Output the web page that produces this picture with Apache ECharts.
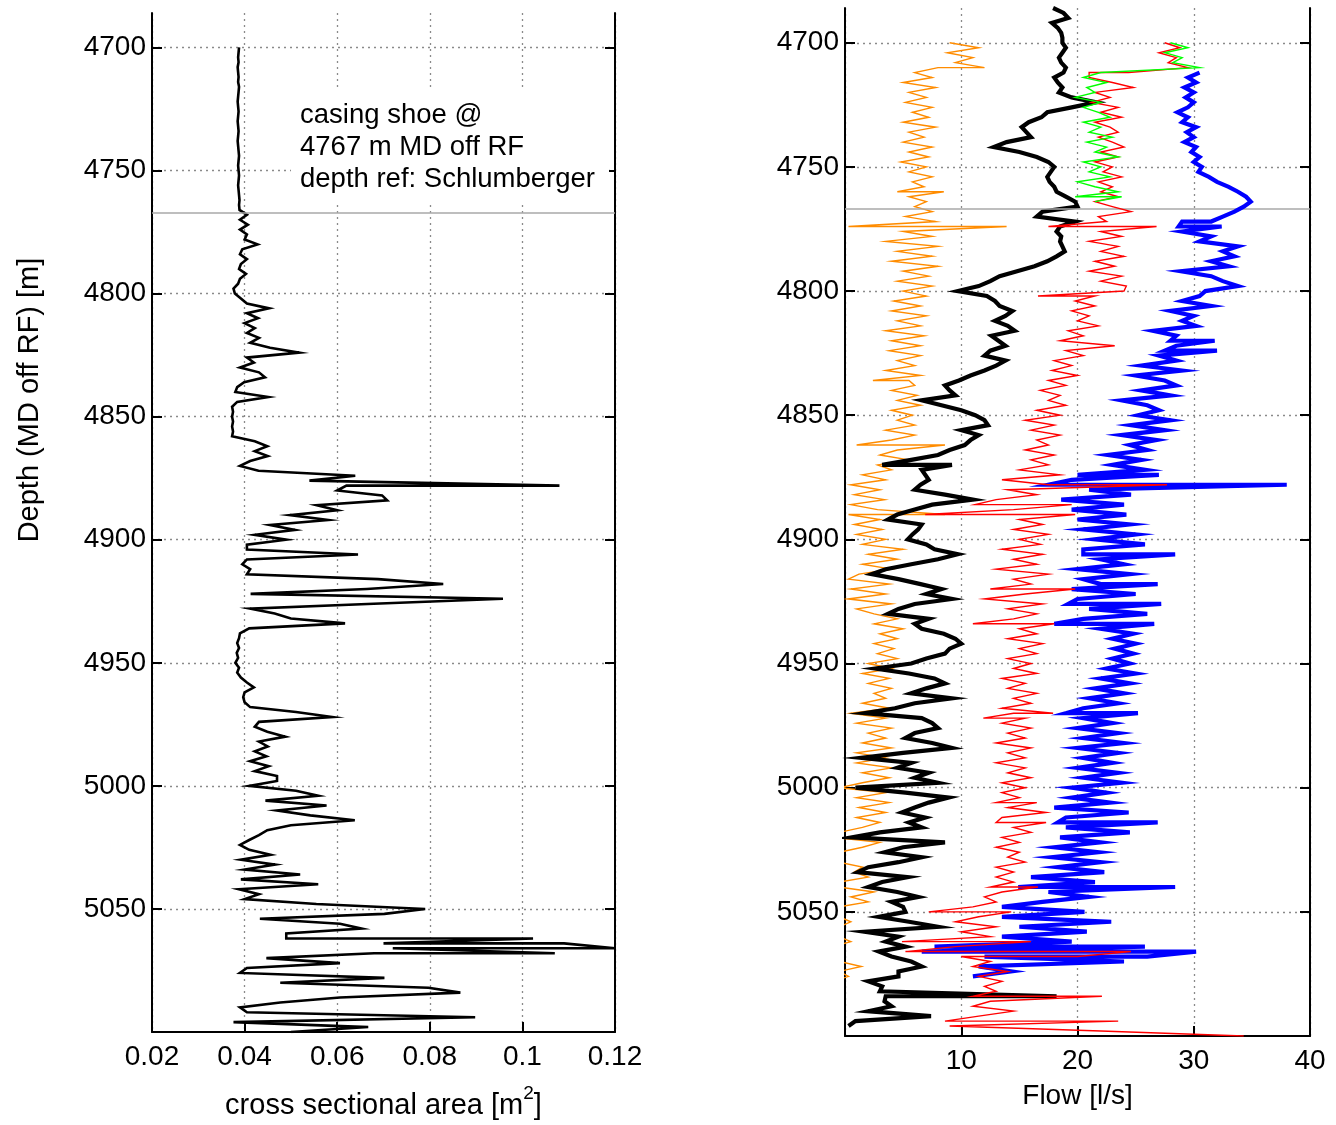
<!DOCTYPE html>
<html><head><meta charset="utf-8">
<script src="https://cdn.jsdelivr.net/npm/echarts@6/dist/echarts.min.js"></script>
<style>html,body{margin:0;padding:0;background:#fff}#c{width:1336px;height:1125px}</style>
</head><body><div id="c"></div>
<script>
// ---- data ----
const STEP = 2;                // depth sampling step, m
const depthTicks = [4700, 4750, 4800, 4850, 4900, 4950, 5000, 5050];
const casingShoe = 4767;
// a [a, b] entry means the trace sweeps from a to b at that depth

// left panel: cross sectional area [m2], from 4700 m
const areaStart = 4700;
const area = [
  0.0388,0.0387,0.0386,0.0387,0.0385,0.0386,0.0387,0.0386,0.0388,0.0387,
  0.0386,0.0385,0.0386,0.0387,0.0386,0.0385,0.0386,0.0387,0.0386,0.0385,
  0.0386,0.0387,0.0388,0.0387,0.0386,0.0387,0.0388,0.0387,0.0386,0.0387,
  0.0388,0.0389,0.0388,0.0389,
  0.0405,0.039,0.0407,0.039,0.0405,0.040,0.0428,0.0395,0.039,0.0405,0.0392,0.0388,0.0403,0.039,0.0386,0.0376,
  0.0379,0.0392,0.0405,0.0453,0.0405,0.0429,0.040,0.0422,0.0405,0.0431,0.0412,0.0455,0.0518,0.0405,0.042,0.039,
  0.0431,0.0444,0.0399,0.0384,0.038,0.0451,0.0384,0.0373,0.0375,0.0373,
  0.0375,0.0373,0.0375,0.0373,0.0422,0.0449,0.0422,0.045,0.0412,0.039,0.043,0.0639,
  0.054,[0.108,0.062],0.060,0.0697,0.0708,0.0556,0.060,0.0498,0.058,0.0455,0.0509,0.0422,0.049,
  0.0405,0.0405,0.0645,0.0405,0.0395,0.0412,0.0405,0.0688,0.0829,0.0664,0.0413,0.0958,0.0679,0.0412,0.0465,0.050,
  0.0617,0.041,0.039,0.0388,0.0384,0.0388,0.0383,0.0386,0.038,
  0.0388,0.0384,0.0392,0.0405,0.042,0.040,0.0397,0.040,0.0412,0.0511,0.0589,0.0431,0.0422,0.0449,0.0488,0.0431,
  0.045,0.0422,0.0447,0.0412,0.0452,0.0422,0.047,
  0.047,0.041,0.0511,0.0559,0.0445,0.0577,0.047,0.0542,0.0638,0.05,0.0449,0.0431,0.041,0.039,0.041,0.0456,
  0.0392,0.0466,0.040,0.052,0.0392,0.0559,0.0388,0.0431,0.040,0.0555,0.079,
  0.0702,0.0433,0.0606,0.0653,0.049,[0.049,0.1023],[0.07,0.109],[0.12,0.072],[0.107,0.068],0.0447,0.0606,0.0405,0.039,0.0702,0.0477,0.0797,
  0.0866,0.0606,0.0477,0.039,0.0405,0.0898,0.0376,0.0667,0.05
];

// right panel: flow [l/s]
const blackStart = 4686;
const blackFlow = [
  17.9,18.8,19.2,17.8,18.3,18.6,18.7,18.7,19.0,18.7,
  18.4,18.6,19.0,18.8,18.0,18.3,18.7,18.4,19.5,21.6,
  19.5,17.4,16.9,15.8,15.2,15.6,16.0,13.9,12.8,15.0,
  16.5,17.5,18.0,17.7,17.4,17.6,18.0,18.2,19.0,19.8,
  20.0,17.0,16.5,19.8,18.5,18.2,18.6,18.5,18.7,18.9,
  18.2,17.4,16.3,14.8,13.3,12.5,11.5,9.7,12.2,12.9,
  13.3,14.4,13.8,12.9,14.0,14.6,12.6,13.2,13.8,12.5,
  12.0,13.8,13.0,12.0,10.8,9.8,8.6,9.0,9.5,6.6,
  8.3,10.0,11.2,12.0,12.3,10.0,11.5,10.8,10.3,9.0,
  8.0,5.7,[3.2,9.2],6.6,6.9,7.2,6.5,6.0,8.6,11.0,
  7.5,6.0,4.5,3.7,6.6,6.3,5.8,5.4,7.0,7.7,
  9.7,8.0,5.7,3.5,2.3,4.6,6.5,8.3,7.0,9.2,
  6.0,4.6,3.7,7.2,6.0,6.6,8.5,9.5,10.0,9.0,
  8.6,7.0,5.7,2.6,5.5,7.7,8.6,7.0,5.7,9.2,
  6.0,4.3,1.7,6.6,7.5,8.0,6.0,5.2,7.5,9.2,
  5.0,1.4,5.7,4.5,7.2,6.0,8.0,0.9,5.2,8.9,
  7.2,6.0,4.9,6.9,5.5,6.6,3.0,0.6,8.6,5.0,
  3.4,6.6,4.6,2.0,1.1,5.4,3.2,2.0,4.5,6.3,
  4.0,5.0,5.2,2.9,5.5,8.0,1.7,4.6,3.5,5.2,
  2.9,4.0,5.7,6.6,4.6,4.6,2.0,3.2,3.0,[18.2,3.5],
  3.4,4.0,2.0,7.4,0.9,0.3
];

const redStart = 4700;
const redFlow = [
  27.5,28.8,27.0,28.5,27.8,29.5,[24.4,21.0],21.0,23.0,24.8,
  21.5,22.8,21.2,23.5,22.0,23.8,21.5,22.8,23.5,21.8,
  23.0,24.0,22.0,23.5,21.5,23.0,22.2,23.8,21.8,23.0,
  22.0,23.5,21.5,23.0,24.6,21.8,22.5,[17.5,26.8],22.0,23.8,
  21.0,23.5,22.0,24.0,21.5,23.2,21.0,23.8,22.0,24.2,
  24.0,[16.6,21.5],19.8,21.5,19.5,21.0,20.0,21.8,19.2,20.5,
  18.5,23.2,19.0,20.5,18.0,19.5,17.8,20.0,17.5,19.0,
  16.8,18.5,17.5,19.0,16.5,18.5,15.5,18.0,16.0,18.5,
  16.5,17.5,15.5,18.0,16.0,17.5,15.0,18.5,13.5,[17.5,27.7],
  14.0,16.5,13.0,[11.2,19.5],14.5,[6.9,19.8],15.0,17.0,14.5,17.5,
  15.0,16.8,13.5,17.0,14.5,16.5,13.0,17.5,14.5,16.0,
  [12.5,19.8],15.5,12.0,17.0,14.0,16.5,14.5,[11.0,18.0],15.0,16.5,
  14.0,17.0,15.0,16.5,14.0,16.0,14.5,16.5,13.5,15.5,
  14.0,16.5,14.5,16.0,13.5,[17.9,14.5],[11.9,15.5],13.5,16.0,14.0,
  15.5,13.0,16.0,14.0,15.5,13.0,15.5,14.0,16.0,13.5,
  15.5,13.5,15.0,[13.0,16.5],14.0,17.3,13.5,[13.0,17.3],14.5,16.0,
  13.5,15.0,13.0,15.0,14.0,15.5,13.0,14.5,13.0,14.5,
  [12.5,16.6],13.5,12.0,13.0,11.0,[7.2,14.3],11.5,9.5,13.0,10.0,
  12.5,[4.9,16.0],9.5,[5.2,24.6],[20.0,10.0],12.5,11.0,14.0,11.5,13.5,
  12.0,13.0,[11.0,22.1],12.5,11.0,14.5,11.5,[8.6,23.5],9.0,22.0,
  34.3
];

const greenStart = 4700;
const greenFlow = [
  28.0,29.5,27.5,29.0,28.2,30.5,22.0,20.5,22.5,20.8,
  21.5,19.8,22.0,20.5,21.8,22.8,20.5,22.0,21.0,23.0,
  20.8,22.5,21.5,23.5,20.5,22.0,21.0,22.8,20.0,21.5,
  23.5,[19.8,23.8],21.5
];

const orangeStart = 4700;
const orangeFlow = [
  9.0,11.5,8.8,11.0,9.5,[12.0,8.0],6.0,7.5,5.0,7.8,
  5.5,7.0,5.2,7.5,5.8,7.2,5.0,7.8,5.5,6.8,
  5.0,7.5,5.5,7.2,4.8,7.0,5.5,7.5,5.8,6.8,
  [4.5,8.5],5.5,7.0,6.0,7.5,5.2,7.8,[0.3,13.9],5.0,7.5,
  3.5,8.0,4.5,7.5,4.0,8.0,5.0,7.2,4.5,7.5,
  5.0,7.0,4.2,6.5,4.0,7.0,4.5,6.5,3.5,6.8,
  4.0,6.5,3.8,6.5,4.5,6.0,3.5,6.5,[2.4,5.5],6.0,
  4.0,6.2,4.5,6.5,4.0,5.8,4.5,6.0,3.5,6.0,
  4.0,[1.0,8.6],4.5,3.0,5.5,2.8,4.0,1.5,3.5,0.5,
  3.0,0.8,3.4,0.5,2.8,[8.6,0.3],3.0,0.8,3.2,1.0,
  3.5,1.5,5.0,2.0,4.5,1.5,4.0,1.2,0.3,3.8,
  0.5,3.5,0.3,4.0,1.0,2.5,4.5,2.5,5.0,3.0,
  4.5,2.5,4.2,2.8,4.5,2.0,4.0,1.5,3.8,2.0,
  4.0,2.5,3.5,1.5,3.8,0.5,3.5,1.0,4.0,2.0,
  3.5,1.5,4.0,1.0,3.5,1.0,4.0,1.5,3.8,1.5,
  -0.5,3.5,1.0,3.8,1.2,3.5,1.0,3.0,1.5,-0.5,
  -1.0,3.0,1.5,-0.5,-1.0,-0.5,1.5,0.8,2.0,-0.5,
  -0.5,2.5,0.5,2.0,-0.5,-1.0,-0.5,0.5,-0.5,-1.0,
  -0.5,0.5,-1.0,-1.0,-1.0,-0.5,1.4,-0.5,0.3,-1.0,
  -1.0
];

const blueStart = 4712;
const blueFlow = [
  30.5,29.5,30.2,29.2,30.0,29.3,30.0,29.5,28.6,29.5,
  29.0,30.2,29.4,30.0,29.2,30.2,29.8,30.5,30.0,30.7,
  30.4,31.3,32.0,33.0,33.8,34.5,34.9,34.3,33.5,32.5,
  [31.5,29.0],[28.7,32.4],29.0,31.5,30.5,33.8,32.5,33.5,31.5,33.0,
  28.9,31.5,32.5,33.8,31.0,30.5,29.0,31.5,28.0,30.0,
  29.0,30.2,26.5,28.5,[28.0,31.8],28.5,[27.5,32.0],27.0,28.5,25.5,
  29.0,25.0,27.5,28.5,25.5,28.0,23.8,26.0,27.0,25.2,
  28.0,24.6,27.5,23.8,26.8,24.5,26.0,22.6,25.5,23.0,
  25.8,[20.0,27.0],19.5,[17.5,38.0],21.0,24.6,18.6,24.0,19.5,24.2,
  20.0,24.5,20.5,25.0,21.5,25.8,20.5,[20.5,28.4],22.0,24.0,
  20.0,24.5,20.5,[22.0,26.9],19.5,25.0,20.0,[19.2,27.2],21.0,26.0,
  20.5,[18.0,26.6],22.0,24.8,23.0,25.0,23.2,24.8,23.0,24.5,
  22.5,25.0,22.0,24.5,21.5,24.0,21.0,23.5,20.5,[19.0,25.2],
  20.5,23.0,20.0,23.5,20.5,24.0,20.0,23.5,20.5,23.0,
  20.0,23.5,20.5,23.8,19.5,22.5,19.5,22.8,18.0,24.4,
  19.0,[18.3,26.9],19.0,24.5,18.5,22.0,18.0,21.8,17.8,22.0,
  18.3,22.3,16.0,21.5,[14.9,28.4],17.5,21.0,17.0,13.5,20.6,
  13.5,22.9,15.0,20.8,13.5,19.5,[7.7,25.8],[6.6,30.2],[26.0,12.0],24.0,
  11.5,14.3,11.0
];

// ---- build [value, depth] pairs ----
function build(start, vals) {
  const out = [];
  vals.forEach((v, i) => {
    const d = start + i * STEP;
    if (Array.isArray(v)) v.forEach(x => out.push([x, d]));
    else out.push([v, d]);
  });
  return out;
}

const FONT = "'Liberation Sans', Arial, Helvetica, sans-serif";
const DMIN = 4686, DMAX = 5100;
const gridLine = {show: true, lineStyle: {type: [2, 4], color: '#8a8a8a', width: 1.3}};

function yAx(grid, pos, labels) {
  return {
    type: 'value', gridIndex: grid, position: pos, inverse: true,
    min: DMIN, max: DMAX,
    axisLine: {show: true, onZero: false, lineStyle: {color: '#000', width: 2}},
    axisTick: {show: true, inside: true, length: 10, customValues: depthTicks, lineStyle: {color: '#000', width: 2}},
    axisLabel: labels ? {show: true, customValues: depthTicks, fontSize: 28, color: '#000', fontFamily: FONT, margin: 6,
                         formatter: v => String(v)} : {show: false},
    splitLine: labels ? gridLine : {show: false}
  };
}

function shoeSeries(xi, xv) {
  return {
    type: 'line', xAxisIndex: xi, yAxisIndex: xi * 2, data: [[xv, casingShoe]],
    showSymbol: false, lineStyle: {opacity: 0}, z: 1, silent: true,
    markLine: {silent: true, symbol: 'none', label: {show: false},
      lineStyle: {color: '#a8a8a8', width: 1.6, type: 'solid'},
      data: [{yAxis: casingShoe}]}
  };
}

function curve(xi, data, color, width, z) {
  return {type: 'line', xAxisIndex: xi, yAxisIndex: xi * 2, data: data,
    showSymbol: false, symbol: 'none', silent: true, z: z,
    lineStyle: {color: color, width: width, join: 'miter'}};
}

const chart = echarts.init(document.getElementById('c'), null, {renderer: 'canvas'});
chart.setOption({
  animation: false,
  backgroundColor: '#fff',
  grid: [
    {left: 152, top: 13, width: 463, height: 1021},
    {left: 845, top: 8, width: 465, height: 1028}
  ],
  xAxis: [
    {type: 'value', gridIndex: 0, position: 'bottom', min: 0.02, max: 0.12, interval: 0.02,
     axisLine: {show: true, onZero: false, lineStyle: {color: '#000', width: 2}},
     axisTick: {show: true, inside: true, length: 10, lineStyle: {color: '#000', width: 2}},
     axisLabel: {fontSize: 28, color: '#000', fontFamily: FONT, margin: 11,
       formatter: v => String(parseFloat(Number(v).toFixed(2)))},
     splitLine: gridLine,
     name: '{a|cross sectional area [m}{s|2}{a|]}', nameLocation: 'middle', nameGap: 52,
     nameTextStyle: {fontFamily: FONT, color: '#000', rich: {
       a: {fontSize: 29, lineHeight: 36, verticalAlign: 'bottom', fontFamily: FONT, color: '#000'},
       s: {fontSize: 19, lineHeight: 18, verticalAlign: 'top', fontFamily: FONT, color: '#000'}}}},
    {type: 'value', gridIndex: 1, position: 'bottom', min: 0, max: 40, interval: 10,
     axisLine: {show: true, onZero: false, lineStyle: {color: '#000', width: 2}},
     axisTick: {show: true, inside: true, length: 10, lineStyle: {color: '#000', width: 2}},
     axisLabel: {fontSize: 28, color: '#000', fontFamily: FONT, margin: 11,
       formatter: v => (v === 0 ? '' : String(v))},
     splitLine: gridLine,
     name: 'Flow [l/s]', nameLocation: 'middle', nameGap: 46,
     nameTextStyle: {fontSize: 28, color: '#000', fontFamily: FONT}}
  ],
  yAxis: [yAx(0, 'left', true), yAx(0, 'right', false), yAx(1, 'left', true), yAx(1, 'right', false)],
  graphic: [
    {type: 'text', x: 30, y: 400, rotation: Math.PI / 2, z: 10,
     style: {text: 'Depth (MD off RF) [m]', fontSize: 29, fontFamily: FONT, fill: '#000',
             textAlign: 'center', textVerticalAlign: 'middle'}},
    {type: 'rect', shape: {x: 291, y: 90, width: 318, height: 112}, z: 10,
     style: {fill: '#fff'}},
    {type: 'text', x: 300, y: 99, z: 11,
     style: {text: 'casing shoe @\n4767 m MD off RF\ndepth ref: Schlumberger', fontSize: 27.5,
             lineHeight: 32, fontFamily: FONT, fill: '#000', textAlign: 'left', textVerticalAlign: 'top'}}
  ],
  series: [
    shoeSeries(0, 0.05),
    curve(0, build(areaStart, area), '#000', 2.6, 3),
    shoeSeries(1, 10),
    curve(1, build(orangeStart, orangeFlow), '#ff8c00', 1.4, 3),
    curve(1, build(blackStart, blackFlow), '#000', 4.2, 4),
    curve(1, build(blueStart, blueFlow), '#0000ff', 4.2, 5),
    curve(1, build(redStart, redFlow), '#ff0000', 1.4, 6),
    curve(1, build(greenStart, greenFlow), '#00ff00', 1.4, 7)
  ]
});
</script>
</body></html>
